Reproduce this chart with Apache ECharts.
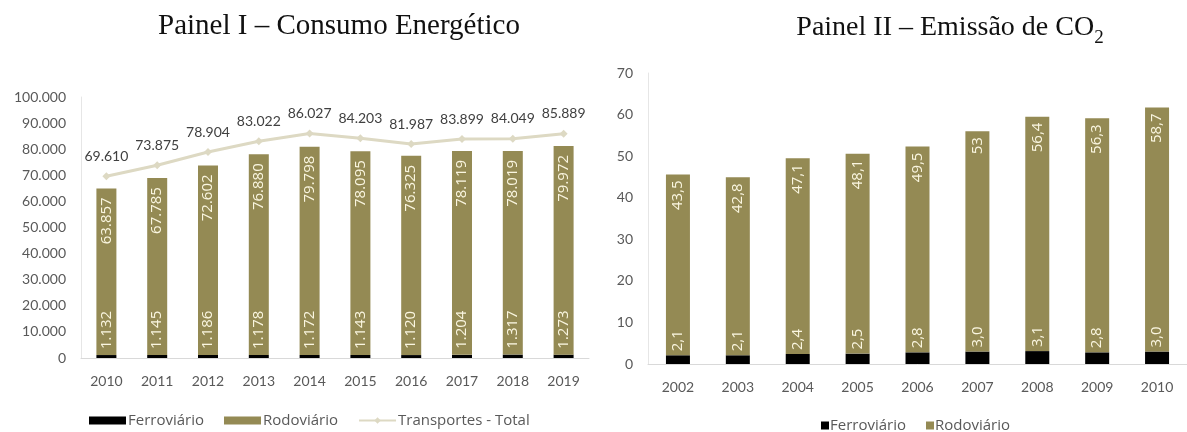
<!DOCTYPE html>
<html>
<head>
<meta charset="utf-8">
<style>
  html, body { margin: 0; padding: 0; background: #fff; }
  #chart { width: 1187px; height: 432px; }
</style>
<script src="https://cdn.jsdelivr.net/npm/echarts@6/dist/echarts.min.js"></script>
</head>
<body>
<div id="chart"></div>
<script>
// Painel I – consumo energético (mil tep)
const anosConsumo = ['2010', '2011', '2012', '2013', '2014', '2015', '2016', '2017', '2018', '2019'];
const consumoFerroviario = [1132, 1145, 1186, 1178, 1172, 1143, 1120, 1204, 1317, 1273];
const consumoRodoviario = [63857, 67785, 72602, 76880, 79798, 78095, 76325, 78119, 78019, 79972];
const consumoTotal = [69610, 73875, 78904, 83022, 86027, 84203, 81987, 83899, 84049, 85889];

// Painel II – emissão de CO2
const anosEmissao = ['2002', '2003', '2004', '2005', '2006', '2007', '2008', '2009', '2010'];
const emissaoFerroviario = [2.1, 2.1, 2.4, 2.5, 2.8, 3.0, 3.1, 2.8, 3.0];
const emissaoRodoviario = [43.5, 42.8, 47.1, 48.1, 49.5, 53, 56.4, 56.3, 58.7];

const OLIVA = '#948A54';
const PRETO = '#000000';
const BEGE = '#DDD9C3';
const CINZA = '#595959';
const CLARO = '#FAF6E0';
const FONTE = 'Lato, "Open Sans", sans-serif';
const FONTE_LARGA = '"Open Sans", Lato, sans-serif';
const SERIFA = '"Liberation Serif", "DejaVu Serif", serif';

const milhar = v => String(v).replace(/\B(?=(\d{3})+(?!\d))/g, '.');
const decimal = v => String(v).replace('.', ',');

const chart = echarts.init(document.getElementById('chart'), null, { renderer: 'canvas' });

const eixoX = (gridIndex, data) => ({
  type: 'category', gridIndex, data,
  axisLine: { lineStyle: { color: '#D9D9D9', width: 1 } },
  axisTick: { show: false },
  axisLabel: { color: CINZA, fontSize: 14, fontFamily: FONTE, margin: 16 }
});
const eixoY = (gridIndex, max, interval, fmt) => ({
  type: 'value', gridIndex, min: 0, max, interval,
  axisLine: { show: true, lineStyle: { color: '#E6E6E6', width: 1 } },
  axisTick: { show: false },
  splitLine: { show: false },
  axisLabel: { color: CINZA, fontSize: 14, fontFamily: FONTE, margin: 15, formatter: fmt }
});

// rótulo do trecho ferroviário: logo acima do segmento preto, dentro da barra oliva
const rotuloBase = (fmt, distance) => ({
  show: true, position: 'top', rotate: 90, align: 'left', verticalAlign: 'middle',
  distance, color: CLARO, fontSize: 15, fontFamily: FONTE_LARGA,
  formatter: p => fmt(p.value)
});
// rótulo do trecho rodoviário: junto ao topo da barra
const rotuloTopo = (fmt, distance) => ({
  show: true, position: 'insideTop', rotate: 90, align: 'right', verticalAlign: 'middle',
  distance, color: CLARO, fontSize: 15, fontFamily: FONTE_LARGA,
  formatter: p => fmt(p.value)
});

chart.setOption({
  animation: false,
  title: [
    {
      text: 'Painel I – Consumo Energético',
      left: 334, top: 7, textAlign: 'center',
      textStyle: { fontFamily: SERIFA, fontSize: 29, fontWeight: 'normal', color: '#111' }
    },
    {
      text: '{m|Painel II – Emissão de CO}{s|2}',
      left: 945, top: 9, textAlign: 'center',
      textStyle: {
        fontWeight: 'normal',
        rich: {
          m: { fontFamily: SERIFA, fontSize: 28, fontWeight: 'normal', color: '#111', lineHeight: 34, verticalAlign: 'top' },
          s: { fontFamily: SERIFA, fontSize: 19, fontWeight: 'normal', color: '#111', lineHeight: 20, verticalAlign: 'bottom' }
        },
        lineHeight: 46
      }
    }
  ],
  legend: [
    {
      data: [
        { name: 'Ferroviário', icon: 'rect' },
        { name: 'Rodoviário', icon: 'rect' },
        { name: 'Transportes - Total' }
      ],
      left: 84, top: 408,
      itemWidth: 37, itemHeight: 8, itemGap: 20,
      textStyle: { color: CINZA, fontSize: 15, fontFamily: FONTE_LARGA, padding: [0, 0, 0, -3] },
      selectedMode: false
    },
    {
      data: [{ name: 'Ferroviário', icon: 'rect' }, { name: 'Rodoviário', icon: 'rect' }],
      left: 816, top: 413,
      itemWidth: 8, itemHeight: 8, itemGap: 20,
      textStyle: { color: CINZA, fontSize: 15, fontFamily: FONTE_LARGA, padding: [0, 0, 0, -4] },
      selectedMode: false
    }
  ],
  grid: [
    { left: 81, top: 97, width: 508, bottom: 74 },
    { left: 648, top: 73, width: 543, bottom: 68 }
  ],
  xAxis: [eixoX(0, anosConsumo), eixoX(1, anosEmissao)],
  yAxis: [
    eixoY(0, 100000, 10000, v => milhar(v)),
    eixoY(1, 70, 10, v => String(v))
  ],
  series: [
    {
      name: 'Ferroviário', type: 'bar', stack: 'consumo', xAxisIndex: 0, yAxisIndex: 0,
      data: consumoFerroviario, barWidth: 20,
      itemStyle: { color: PRETO },
      label: rotuloBase(milhar, 6)
    },
    {
      name: 'Rodoviário', type: 'bar', stack: 'consumo', xAxisIndex: 0, yAxisIndex: 0,
      data: consumoRodoviario, barWidth: 20,
      itemStyle: { color: OLIVA },
      label: rotuloTopo(milhar, 9)
    },
    {
      name: 'Transportes - Total', type: 'line', xAxisIndex: 0, yAxisIndex: 0,
      data: consumoTotal,
      symbol: 'diamond', symbolSize: 8,
      lineStyle: { color: BEGE, width: 3 },
      itemStyle: { color: BEGE },
      label: { show: true, position: 'top', distance: 9, color: '#404040', fontSize: 14, fontFamily: FONTE, formatter: p => milhar(p.value) },
      z: 3
    },
    {
      name: 'Ferroviário', type: 'bar', stack: 'emissao', xAxisIndex: 1, yAxisIndex: 1,
      data: emissaoFerroviario, barWidth: 24,
      itemStyle: { color: PRETO },
      label: rotuloBase(v => v.toFixed(1).replace('.', ','), 4)
    },
    {
      name: 'Rodoviário', type: 'bar', stack: 'emissao', xAxisIndex: 1, yAxisIndex: 1,
      data: emissaoRodoviario, barWidth: 24,
      itemStyle: { color: OLIVA },
      label: rotuloTopo(decimal, 6)
    }
  ]
});
</script>
</body>
</html>
